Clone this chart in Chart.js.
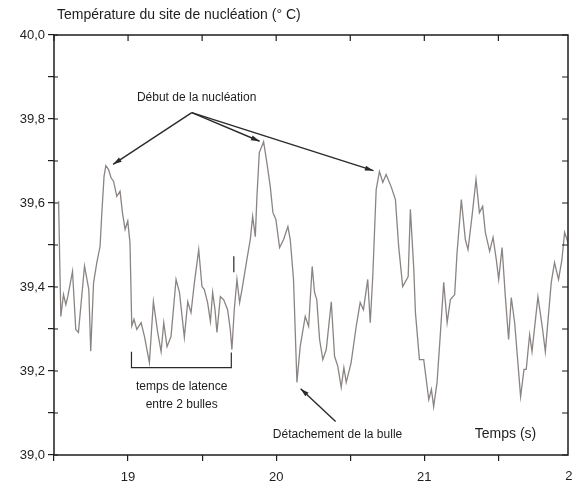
<!DOCTYPE html>
<html>
<head>
<meta charset="utf-8">
<script src="https://cdn.jsdelivr.net/npm/chart.js@4.4.0/dist/chart.umd.min.js"></script>
<style>
  html, body { margin: 0; padding: 0; background: #fff; }
  canvas { display: block; }
</style>
</head>
<body>
<canvas id="chart" width="572" height="489"></canvas>
<script>
// time (s)
const times = [
  18.531, 18.546, 18.564, 18.580, 18.593, 18.625, 18.647, 18.665, 18.706, 18.735,
  18.748, 18.767, 18.789, 18.811, 18.823, 18.838, 18.850, 18.868, 18.885, 18.902,
  18.924, 18.946, 18.962, 18.980, 18.998, 19.013, 19.025, 19.040, 19.059, 19.088,
  19.111, 19.144, 19.171, 19.200, 19.223, 19.241, 19.263, 19.290, 19.324, 19.347,
  19.380, 19.403, 19.425, 19.448, 19.477, 19.499, 19.515, 19.537, 19.556, 19.571,
  19.587, 19.600, 19.623, 19.645, 19.672, 19.690, 19.701, 19.717, 19.735, 19.753,
  19.769, 19.802, 19.825, 19.841, 19.859, 19.870, 19.886, 19.915, 19.937, 19.960,
  19.978, 19.998, 20.023, 20.050, 20.079, 20.095, 20.117, 20.140, 20.162, 20.196,
  20.219, 20.243, 20.259, 20.274, 20.293, 20.315, 20.338, 20.372, 20.394, 20.416,
  20.439, 20.457, 20.473, 20.506, 20.540, 20.567, 20.589, 20.618, 20.635, 20.652,
  20.675, 20.697, 20.720, 20.742, 20.776, 20.805, 20.827, 20.854, 20.891, 20.906,
  20.929, 20.940, 20.967, 20.996, 21.030, 21.048, 21.063, 21.086, 21.109, 21.131,
  21.154, 21.176, 21.205, 21.221, 21.250, 21.277, 21.295, 21.322, 21.349, 21.372,
  21.394, 21.412, 21.441, 21.464, 21.486, 21.502, 21.525, 21.547, 21.569, 21.587,
  21.610, 21.650, 21.673, 21.688, 21.711, 21.727, 21.767, 21.796, 21.817, 21.857,
  21.879, 21.906, 21.929, 21.947, 21.970
];
// température (°C)
const temps = [
  39.604, 39.330, 39.382, 39.358, 39.377, 39.437, 39.299, 39.292, 39.450, 39.394,
  39.247, 39.410, 39.458, 39.497, 39.577, 39.664, 39.689, 39.680, 39.660, 39.652,
  39.616, 39.628, 39.577, 39.537, 39.557, 39.505, 39.307, 39.323, 39.299, 39.315,
  39.282, 39.220, 39.365, 39.292, 39.246, 39.315, 39.258, 39.282, 39.418, 39.387,
  39.280, 39.365, 39.339, 39.411, 39.489, 39.401, 39.394, 39.363, 39.318, 39.387,
  39.346, 39.292, 39.377, 39.370, 39.346, 39.299, 39.251, 39.346, 39.418, 39.363,
  39.394, 39.465, 39.513, 39.568, 39.520, 39.615, 39.720, 39.746, 39.696, 39.639,
  39.577, 39.561, 39.494, 39.513, 39.544, 39.513, 39.418, 39.173, 39.258, 39.330,
  39.306, 39.449, 39.387, 39.370, 39.275, 39.227, 39.251, 39.365, 39.235, 39.211,
  39.161, 39.208, 39.173, 39.220, 39.306, 39.363, 39.346, 39.418, 39.315, 39.425,
  39.632, 39.675, 39.649, 39.668, 39.639, 39.608, 39.496, 39.401, 39.425, 39.585,
  39.442, 39.339, 39.227, 39.227, 39.132, 39.156, 39.115, 39.173, 39.292, 39.411,
  39.315, 39.370, 39.382, 39.482, 39.608, 39.513, 39.489, 39.568, 39.656, 39.577,
  39.592, 39.530, 39.485, 39.518, 39.465, 39.418, 39.494, 39.377, 39.275, 39.375,
  39.315, 39.139, 39.204, 39.204, 39.287, 39.246, 39.377, 39.306, 39.246, 39.411,
  39.458, 39.418, 39.465, 39.530, 39.506
];

const xTickValues = [18.5, 19, 19.5, 20, 20.5, 21, 21.5];
const yTickValues = [39.0, 39.1, 39.2, 39.3, 39.4, 39.5, 39.6, 39.7, 39.8, 39.9, 40.0];

const titleText = "Température du site de nucléation (° C)";
const axisFont = '13px "Liberation Sans", Arial, sans-serif';
const ink = "#1e1e1e";

// frame, inward ticks, titles and annotations
const decorPlugin = {
  id: "decor",
  afterDraw(chart) {
    const { ctx, chartArea: a, scales } = chart;
    const xs = scales.x, ys = scales.y;
    const px = v => xs.getPixelForValue(v);
    const py = v => ys.getPixelForValue(v);

    ctx.save();
    ctx.strokeStyle = ink;
    ctx.lineWidth = 1.5;
    ctx.strokeRect(a.left, a.top, a.right - a.left, a.bottom - a.top);

    // inward ticks
    ctx.lineWidth = 1.2;
    ctx.beginPath();
    xTickValues.forEach(v => {
      const x = px(v);
      ctx.moveTo(x, a.top); ctx.lineTo(x, a.top + 6);
    });
    yTickValues.forEach(v => {
      const y = py(v);
      ctx.moveTo(a.left, y); ctx.lineTo(a.left + 4, y);
      ctx.moveTo(a.right, y); ctx.lineTo(a.right - 6, y);
    });
    ctx.stroke();

    // "22" label just past the right edge
    ctx.fillStyle = ink;
    ctx.font = axisFont;
    ctx.textAlign = "center";
    ctx.textBaseline = "top";
    ctx.fillText("22", px(22), a.bottom + 15);

    // title
    ctx.font = '14px "Liberation Sans", Arial, sans-serif';
    ctx.textAlign = "left";
    ctx.textBaseline = "middle";
    ctx.fillText(titleText, 57, 15);

    // arrows
    function arrow(x0, y0, x1, y1) {
      const ang = Math.atan2(y1 - y0, x1 - x0);
      ctx.beginPath();
      ctx.moveTo(x0, y0); ctx.lineTo(x1, y1);
      ctx.stroke();
      ctx.beginPath();
      ctx.moveTo(x1, y1);
      ctx.lineTo(x1 - 9 * Math.cos(ang - 0.28), y1 - 9 * Math.sin(ang - 0.28));
      ctx.lineTo(x1 - 9 * Math.cos(ang + 0.28), y1 - 9 * Math.sin(ang + 0.28));
      ctx.closePath();
      ctx.fill();
    }
    ctx.lineWidth = 1.4;
    ctx.strokeStyle = "#2a2a2a";
    ctx.fillStyle = "#2a2a2a";
    const ox = px(19.43), oy = py(39.815);
    arrow(ox, oy, px(18.899), py(39.692));
    arrow(ox, oy, px(19.888), py(39.747));
    arrow(ox, oy, px(20.657), py(39.677));
    arrow(px(20.401), py(39.080), px(20.165), py(39.158));

    // bracket of the latency time
    ctx.lineWidth = 1.2;
    ctx.beginPath();
    ctx.moveTo(px(19.023), py(39.246));
    ctx.lineTo(px(19.023), py(39.208));
    ctx.lineTo(px(19.697), py(39.208));
    ctx.lineTo(px(19.697), py(39.244));
    ctx.moveTo(px(19.714), py(39.473));
    ctx.lineTo(px(19.714), py(39.435));
    ctx.stroke();

    ctx.fillStyle = ink;
    ctx.font = '12px "Liberation Sans", Arial, sans-serif';
    ctx.textAlign = "center";
    ctx.fillText("Début de la nucléation", px(19.463), py(39.851));
    ctx.fillText("temps de latence", px(19.362), py(39.163));
    ctx.fillText("entre 2 bulles", px(19.362), py(39.120));
    ctx.fillText("Détachement de la bulle", px(20.414), py(39.049));
    ctx.font = '14px "Liberation Sans", Arial, sans-serif';
    ctx.fillText("Temps (s)", px(21.548), py(39.049));
    ctx.restore();
  }
};

new Chart(document.getElementById("chart"), {
  type: "line",
  data: {
    datasets: [{
      data: times.map((t, i) => ({ x: t, y: temps[i] })),
      borderColor: "#8a8583",
      borderWidth: 1.3,
      pointRadius: 0,
      tension: 0,
      fill: false
    }]
  },
  options: {
    responsive: false,
    animation: false,
    layout: { padding: { top: 35, right: 4, left: 0, bottom: 0 } },
    plugins: { legend: { display: false }, tooltip: { enabled: false } },
    scales: {
      x: {
        type: "linear",
        min: 18.5,
        max: 21.97,
        afterFit(s) { s.height = 34; },
        afterBuildTicks(s) { s.ticks = xTickValues.map(v => ({ value: v })); },
        grid: { drawOnChartArea: false, tickLength: 6, color: ink, lineWidth: 1.2 },
        border: { display: false },
        ticks: {
          autoSkip: false,
          maxRotation: 0,
          padding: 9,
          color: ink,
          font: { family: '"Liberation Sans", Arial, sans-serif', size: 13 },
          callback: v => Number.isInteger(v) ? String(v) : ""
        }
      },
      y: {
        min: 39.0,
        max: 40.0,
        afterFit(s) { s.width = 54; },
        afterBuildTicks(s) { s.ticks = yTickValues.map(v => ({ value: v })); },
        grid: { drawOnChartArea: false, tickLength: 6, color: ink, lineWidth: 1.2 },
        border: { display: false },
        ticks: {
          autoSkip: false,
          padding: 3,
          color: ink,
          font: { family: '"Liberation Sans", Arial, sans-serif', size: 13 },
          callback: v => (Math.round(v * 10) % 2 === 0) ? v.toFixed(1).replace(".", ",") : ""
        }
      }
    }
  },
  plugins: [decorPlugin]
});
</script>
</body>
</html>
